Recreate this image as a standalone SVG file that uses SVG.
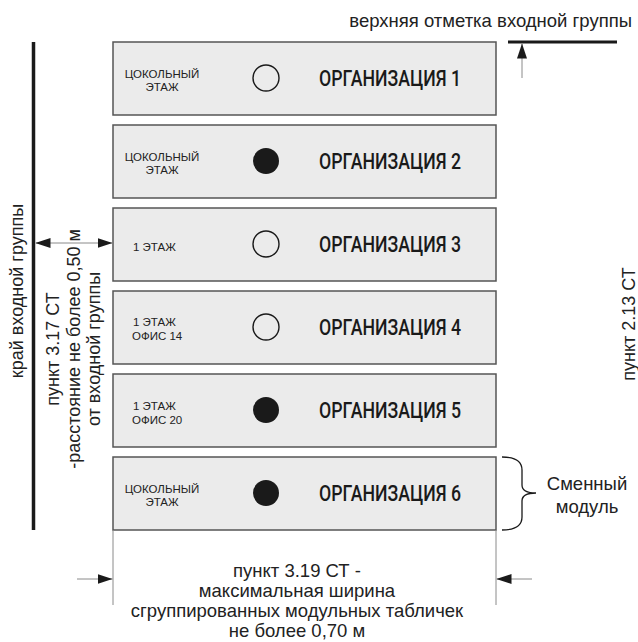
<svg xmlns="http://www.w3.org/2000/svg" width="638" height="642" viewBox="0 0 638 642">
<style>
.box{fill:#ebebeb;stroke:#555;stroke-width:1.5}
.small{font-family:"Liberation Sans",Arial,sans-serif;font-size:11.5px;fill:#222}
.org{font-family:Roboto,"Liberation Sans",sans-serif;font-weight:500;font-size:22px;fill:#1a1a1a}
.lbl{font-family:"Liberation Sans",Arial,sans-serif;font-size:18.5px;fill:#222}
.rot{font-family:"Liberation Sans",Arial,sans-serif;font-size:18px;fill:#222}
.open{fill:none;stroke:#1a1a1a;stroke-width:1.4}
.full{fill:#1a1a1a}
.thin{stroke:#8a8a8a;stroke-width:1;fill:none}
.thick{stroke:#1a1a1a;fill:none}
</style>
<defs>
<marker id="ah" markerUnits="userSpaceOnUse" markerWidth="15" markerHeight="10" refX="15" refY="5" orient="auto-start-reverse" viewBox="0 0 15 10">
<path d="M0,0 L15,5 L0,10 z" fill="#1a1a1a"/>
</marker>
</defs>

<g id="module1">
<rect class="box" x="113" y="42" width="383" height="73"/>
<text class="small" x="162" y="78" text-anchor="middle">ЦОКОЛЬНЫЙ</text>
<text class="small" x="162" y="91" text-anchor="middle">ЭТАЖ</text>
<circle class="open" cx="266" cy="78" r="13"/>
<text class="org" x="319" y="86" textLength="142" lengthAdjust="spacingAndGlyphs">ОРГАНИЗАЦИЯ 1</text>
</g>
<g id="module2">
<rect class="box" x="113" y="125" width="383" height="73"/>
<text class="small" x="162" y="161" text-anchor="middle">ЦОКОЛЬНЫЙ</text>
<text class="small" x="162" y="174" text-anchor="middle">ЭТАЖ</text>
<circle class="full" cx="266" cy="161" r="13"/>
<text class="org" x="319" y="169" textLength="142" lengthAdjust="spacingAndGlyphs">ОРГАНИЗАЦИЯ 2</text>
</g>
<g id="module3">
<rect class="box" x="113" y="208" width="383" height="73"/>
<text class="small" x="133" y="251">1 ЭТАЖ</text>
<circle class="open" cx="266" cy="244" r="13"/>
<text class="org" x="319" y="252" textLength="142" lengthAdjust="spacingAndGlyphs">ОРГАНИЗАЦИЯ 3</text>
</g>
<g id="module4">
<rect class="box" x="113" y="291" width="383" height="73"/>
<text class="small" x="133" y="326">1 ЭТАЖ</text>
<text class="small" x="132" y="340">ОФИС 14</text>
<circle class="open" cx="266" cy="327" r="13"/>
<text class="org" x="319" y="335" textLength="142" lengthAdjust="spacingAndGlyphs">ОРГАНИЗАЦИЯ 4</text>
</g>
<g id="module5">
<rect class="box" x="113" y="374" width="383" height="73"/>
<text class="small" x="133" y="410">1 ЭТАЖ</text>
<text class="small" x="132" y="424">ОФИС 20</text>
<circle class="full" cx="266" cy="410" r="13"/>
<text class="org" x="319" y="418" textLength="142" lengthAdjust="spacingAndGlyphs">ОРГАНИЗАЦИЯ 5</text>
</g>
<g id="module6">
<rect class="box" x="113" y="457" width="383" height="73"/>
<text class="small" x="162" y="493" text-anchor="middle">ЦОКОЛЬНЫЙ</text>
<text class="small" x="162" y="506" text-anchor="middle">ЭТАЖ</text>
<circle class="full" cx="266" cy="493" r="13"/>
<text class="org" x="319" y="501" textLength="142" lengthAdjust="spacingAndGlyphs">ОРГАНИЗАЦИЯ 6</text>
</g>

<g id="top-mark">
<line class="thick" x1="508" y1="42" x2="617" y2="42" stroke-width="3"/>
<text class="lbl" x="632" y="27" text-anchor="end">верхняя отметка входной группы</text>
</g>
<g id="entry-edge">
<line class="thick" x1="33.5" y1="42" x2="33.5" y2="530" stroke-width="3.5"/>
<text class="rot" transform="translate(23,291) rotate(-90)" text-anchor="middle">край входной группы</text>
</g>
<g id="note-317">
<text class="rot" transform="translate(59,349) rotate(-90)" text-anchor="middle">пункт 3.17 СТ</text>
<text class="rot" transform="translate(80,349) rotate(-90)" text-anchor="middle">-расстояние не более 0,50 м</text>
<text class="rot" transform="translate(100,349) rotate(-90)" text-anchor="middle">от входной группы</text>
</g>
<g id="note-213">
<text class="rot" transform="translate(635,324) rotate(-90)" text-anchor="middle">пункт 2.13 СТ</text>
</g>
<g id="module-label">
<path class="thick" stroke-width="1.3" d="M502,457 Q522,457 522,470 L522,485 Q522,493 536,493 Q522,493 522,501 L522,517 Q522,530 502,530"/>
<text class="lbl" x="587" y="490" text-anchor="middle">Сменный</text>
<text class="lbl" x="587" y="513" text-anchor="middle">модуль</text>
</g>
<g id="note-319">
<text class="lbl" x="297" y="577" text-anchor="middle">пункт 3.19 СТ -</text>
<text class="lbl" x="297" y="597" text-anchor="middle">максимальная ширина</text>
<text class="lbl" x="297" y="617" text-anchor="middle">сгруппированных модульных табличек</text>
<text class="lbl" x="297" y="637" text-anchor="middle">не более 0,70 м</text>
</g>

<g id="connectors">
<line class="thin" x1="113" y1="530" x2="113" y2="605"/>
<line class="thin" x1="496" y1="530" x2="496" y2="605"/>
<line class="thin" x1="522" y1="78" x2="522" y2="43.5" marker-end="url(#ah)"/>
<line class="thin" x1="35.5" y1="243" x2="112.5" y2="243" marker-start="url(#ah)" marker-end="url(#ah)"/>
<line class="thin" x1="77" y1="579" x2="112.5" y2="579" marker-end="url(#ah)"/>
<line class="thin" x1="532" y1="579" x2="496.5" y2="579" marker-end="url(#ah)"/>
</g>
</svg>
